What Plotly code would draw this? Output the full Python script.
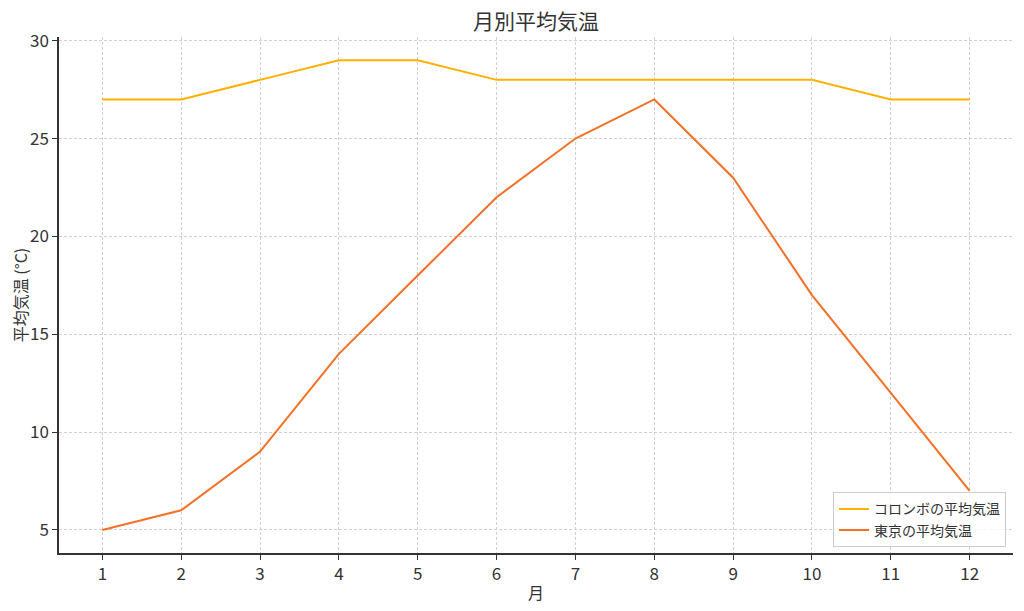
import plotly.graph_objects as go

months = [1, 2, 3, 4, 5, 6, 7, 8, 9, 10, 11, 12]
colombo = [27, 27, 28, 29, 29, 28, 28, 28, 28, 28, 27, 27]
tokyo = [5, 6, 9, 14, 18, 22, 25, 27, 23, 17, 12, 7]
y_ticks = [5, 10, 15, 20, 25, 30]

FONT = "Noto Sans CJK JP"
fig = go.Figure()
fig.add_trace(go.Scatter(x=months, y=colombo, mode="lines", name="コロンボの平均気温",
                         line=dict(color="#FFB000", width=2)))
fig.add_trace(go.Scatter(x=months, y=tokyo, mode="lines", name="東京の平均気温",
                         line=dict(color="#F37026", width=2)))

# page body has an 8px margin, so the figure is drawn 8px in from the top-left
fig.update_layout(
    width=1016, height=603,
    margin=dict(l=51, r=11, t=29, b=58, autoexpand=False),
    paper_bgcolor="white", plot_bgcolor="white",
    font=dict(family=FONT, size=17, color="#333333"),
    title=dict(text="月別平均気温", xref="paper", x=0.5, xanchor="center",
               y=1 - 14 / 603, yanchor="middle",
               font=dict(size=21, color="#333333")),
    xaxis=dict(range=[0.45, 12.55], tickmode="array", tickvals=months,
               ticks="outside", ticklen=5, tickcolor="#333333", automargin=False,
               showline=True, linecolor="#333333", linewidth=1.5,
               showgrid=True, gridcolor="#d0d0d0", griddash="3px,2px", gridwidth=1,
               zeroline=False, title=dict(text="月", font=dict(size=16), standoff=4)),
    yaxis=dict(range=[3.82, 30.19], tickmode="array", tickvals=y_ticks,
               ticks="outside", ticklen=5, tickcolor="#333333", automargin=False,
               showline=True, linecolor="#333333", linewidth=1.5,
               showgrid=True, gridcolor="#d0d0d0", griddash="3px,2px", gridwidth=1,
               zeroline=False, title=dict(text="平均気温 (°C)", font=dict(size=16), standoff=8)),
    legend=dict(x=0.9927, y=0.011, xanchor="right", yanchor="bottom",
                bgcolor="rgba(255,255,255,0.8)", bordercolor="#cccccc", borderwidth=1,
                font=dict(size=14, color="#333333")),
    showlegend=True,
)
fig.write_html("out.html")
